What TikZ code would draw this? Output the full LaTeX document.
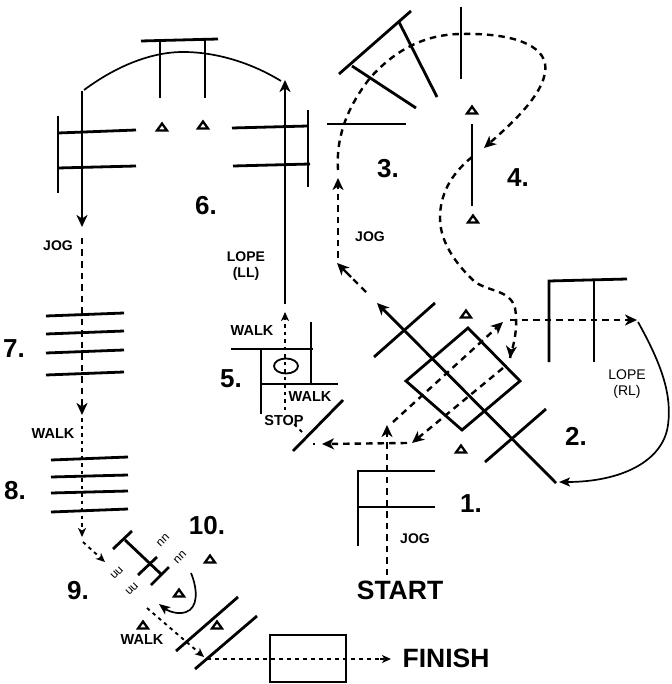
\documentclass[tikz,border=0pt]{standalone}
\usepackage{fontspec}
\setmainfont{Liberation Sans}
\usetikzlibrary{arrows.meta}
\tikzset{
 pole/.style={line width=2.8pt,line cap=butt},
 tipa/.style={-{Stealth[length=12pt,width=11pt,inset=3.5pt]}},
 tipb/.style={-{Stealth[length=9pt,width=8pt,inset=2.5pt]}},
 tipc/.style={-{Stealth[length=11pt,width=9pt,inset=2.5pt]}},
 main/.style={line width=2.4pt,dash pattern=on 6.5pt off 5pt},
 fine/.style={line width=1.9pt,dash pattern=on 3.5pt off 4pt},
 solidcurve/.style={line width=1.7pt},
 num/.style={font=\fontsize{26}{26}\selectfont\bfseries,inner sep=0pt},
 big/.style={font=\fontsize{26.5}{26.5}\selectfont\bfseries,inner sep=0pt},
 lab/.style={font=\fontsize{14.5}{16}\selectfont\bfseries,inner sep=0pt},
 labr/.style={font=\fontsize{14}{16}\selectfont,inner sep=0pt,align=center},
 marks/.style={font=\fontsize{12}{12}\selectfont,inner sep=0pt,rotate=45},
 tri/.pic={\draw[line width=2.3pt,line join=miter,miter limit=10] (-5,3.5)--(5,3.5)--(0,-3.5)--cycle;}
}
\begin{document}
\begin{tikzpicture}[x=1pt,y=-1pt]
\useasboundingbox (0,0) rectangle (671,684);
% obstacle 1
\draw[pole] (435,471)--(358,471)--(358,546);
\draw[pole] (358,507)--(435,507);
% obstacle 2
\draw[pole,line join=miter] (468,328)--(520,381)--(462,430)--(406,381)--cycle;
\draw[pole,tipa] (556,483)--(377,303);
\draw[pole] (435,303)--(374,357);
\draw[pole] (546,409)--(485,462);
\draw[pole] (549,362)--(549,281)--(627,279);
\draw[pole] (594,280)--(594,362);
% obstacle 3
\draw[pole] (339,74)--(411,11);
\draw[pole] (352,66)--(416,108);
\draw[pole] (399,22)--(437,97);
\draw[pole] (327,124)--(406,124);
% obstacle 4
\draw[pole] (461,7)--(461,79);
\draw[pole] (472,124)--(472,206);
% obstacle 5
\draw[pole] (231,349)--(313,349);
\draw[pole] (261,350)--(261,414);
\draw[pole] (311,322)--(311,384);
\draw[pole] (261,384)--(338,384);
\draw[line width=1.8pt] (286,366) ellipse [x radius=12,y radius=7.5];
\draw[pole] (293,451)--(343,400);
% obstacle 6
\draw[pole] (58,116)--(58,193);
\draw[pole] (58,133)--(136,130);
\draw[pole] (58,168)--(136,166);
\draw[pole] (141,41)--(218,39);
\draw[pole] (160,41)--(160,98);
\draw[pole] (205,40)--(205,98);
\draw[pole] (232,128)--(308,126);
\draw[pole] (233,166)--(310,164);
\draw[pole] (308,110)--(308,187);
% obstacle 7
\foreach \a/\b in {316/313,334/331,353/350,375/372}{\draw[pole] (46,\a)--(124,\b);}
% obstacle 8
\foreach \a/\b in {460/457,477/475,493/491,512/509}{\draw[pole] (51,\a)--(128,\b);}
% obstacle 9
\draw[pole] (113,549)--(132,531);
\draw[pole] (125,540)--(162,575);
\draw[pole] (138,575)--(157,557);
\draw[pole] (151,585)--(169,567);
\node[marks] (n1) at (163,540) {nn};
\node[marks] (n2) at (180,557) {nn};
\node[marks] (u1) at (117,573) {uu};
\node[marks] (u2) at (132,589) {uu};
% obstacle 10
\draw[pole] (176,651)--(238,597);
\draw[pole] (195,669)--(257,616);
% finish box
\draw[line width=2.2pt] (270,635) rectangle (346,682);
% cones
\foreach \x/\y in {466/314,461/449,472/110,473/219,162/127,203/125,210/559,179/593,143/625,217/625}{\pic at (\x,\y) {tri};}
% paths
\draw[main,tipa] (387,575)--(387,425);
\draw[main,tipa] (393,422)--(503,322);
\draw[main,tipa] (510,320)--(637,320);
\draw[solidcurve,tipc] (638,322) .. controls (662,365) and (672,395) .. (668,425) .. controls (663,462) and (620,482) .. (559,482);
\draw[main,tipa] (503,368)--(412,443);
\draw[main,tipa] (407,443)--(322,444);
\draw[fine] (315,444)--(313,444);
\draw[fine] (302,432)--(293,423);
\draw[fine,tipb] (285,410)--(285,312);
\draw[pole,tipa] (285,304)--(285,80);
\draw[solidcurve] (84,90) .. controls (115,67) and (150,52) .. (183,52) .. controls (215,52) and (250,62) .. (281,81);
\draw[pole,tipa] (82,91)--(82,227);
\draw[main,tipa] (82,238)--(82,415);
\draw[fine,tipb] (82,418)--(82,537);
\draw[fine,tipb] (83,542)--(105,562);
\draw[solidcurve,tipc] (191,573) .. controls (198,590) and (198,608) .. (186,612) .. controls (178,615) and (168,611) .. (159,604);
\draw[fine,tipb] (147,608)--(204,657);
\draw[line width=1.9pt,dash pattern=on 4pt off 4pt] (207,659)--(380,659);
\draw[fine,tipb] (380,659)--(391,659);
% jog 3
\draw[main] (366,292)--(352,278);
\draw[line width=2.4pt,tipa] (351,277)--(337,263);
\draw[main,tipa] (338,258)--(338,178);
\draw[main,tipa] (338,170) .. controls (336,140) and (345,110) .. (370,78) .. controls (395,50) and (425,34) .. (462,34) .. controls (505,33) and (540,42) .. (545,63) .. controls (550,90) and (510,125) .. (484,148);
\draw[main] (472,157) .. controls (450,175) and (440,195) .. (440,218) .. controls (440,245) and (460,268) .. (475,282) .. controls (490,292) and (510,290) .. (515,308) .. controls (518,325) and (515,340) .. (510,358);
\draw[tipa,line width=2.4pt] (511,350)--(510,358);
% labels
\node[num] (t1) at (471,504) {1.};
\node[num] (t2) at (576,436) {2.};
\node[num] (t3) at (388,169) {3.};
\node[num] (t4) at (518,178) {4.};
\node[num] (t5) at (231,379) {5.};
\node[num] (t6) at (206,206) {6.};
\node[num] (t7) at (14,349) {7.};
\node[num] (t8) at (15,491) {8.};
\node[num] (t9) at (78,591) {9.};
\node[num] (t10) at (207,526) {10.};
\node[big] (start) at (400,590) {START};
\node[big] (finish) at (446,658) {FINISH};
\node[lab] (w1) at (252,331) {WALK};
\node[lab] (w2) at (310,397) {WALK};
\node[lab] (stop) at (284,421) {STOP};
\node[lab] (w3) at (53,434) {WALK};
\node[lab] (w4) at (142,640) {WALK};
\node[labr] (j1) at (58,246) {\bfseries JOG};
\node[labr] (j2) at (370,237) {\bfseries JOG};
\node[labr] (j3) at (415,539) {\bfseries JOG};
\node[labr] (l1) at (246,266) {\bfseries LOPE\\\bfseries (LL)};
\node[labr] (l2) at (627,384) {LOPE\\(RL)};
\end{tikzpicture}
\end{document}
